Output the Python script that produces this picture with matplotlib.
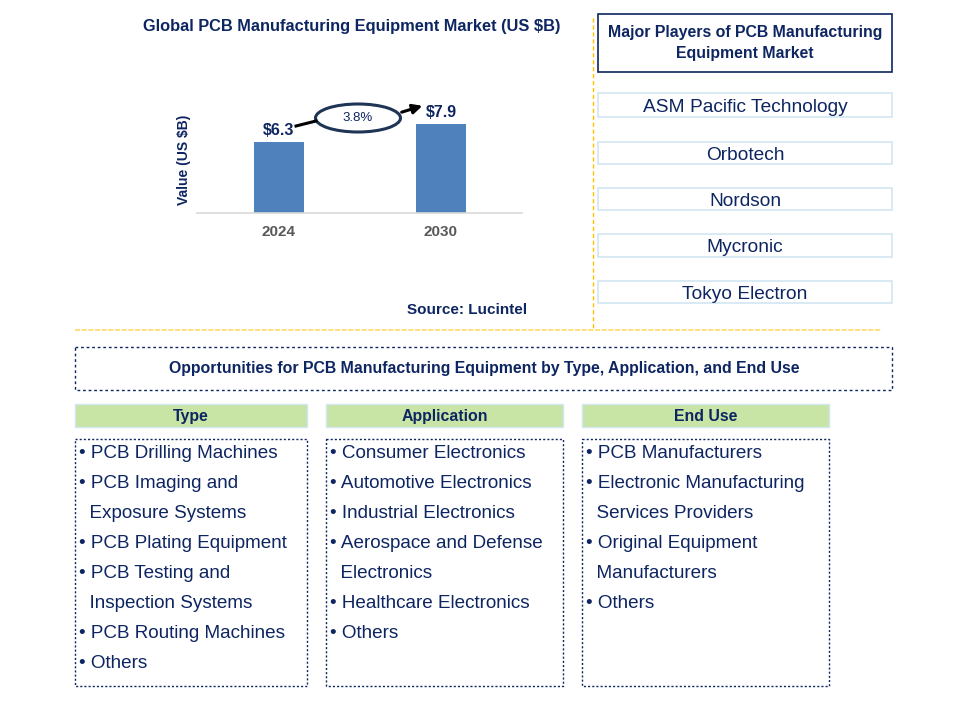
import matplotlib.pyplot as plt
from matplotlib.patches import Rectangle, Ellipse

plt.rcParams['font.family'] = ['Liberation Sans', 'DejaVu Sans']

NAVY = '#0D2561'

# 数据
years = ['2024', '2030']
values = [6.3, 7.9]
cagr = '3.8%'
chart_title = 'Global PCB Manufacturing Equipment Market (US $B)'
players_title = 'Major Players of PCB Manufacturing\nEquipment Market'
players = ['ASM Pacific Technology', 'Orbotech', 'Nordson', 'Mycronic', 'Tokyo Electron']
opp_title = 'Opportunities for PCB Manufacturing Equipment by Type, Application, and End Use'
headers = ['Type', 'Application', 'End Use']
type_items = ['• PCB Drilling Machines', '• PCB Imaging and', '  Exposure Systems',
              '• PCB Plating Equipment', '• PCB Testing and', '  Inspection Systems',
              '• PCB Routing Machines', '• Others']
app_items = ['• Consumer Electronics', '• Automotive Electronics', '• Industrial Electronics',
             '• Aerospace and Defense', '  Electronics', '• Healthcare Electronics', '• Others']
end_items = ['• PCB Manufacturers', '• Electronic Manufacturing', '  Services Providers',
             '• Original Equipment', '  Manufacturers', '• Others']

W, H = 957, 727
fig = plt.figure(figsize=(W / 100, H / 100), dpi=100)

# 背景画布（像素坐标）
bg = fig.add_axes([0, 0, 1, 1])
bg.set_xlim(0, W)
bg.set_ylim(H, 0)
bg.axis('off')

# 柱状图
left, right, bottom, top = 197, 522, 213, 80
ax = fig.add_axes([left / W, 1 - bottom / H, (right - left) / W, (bottom - top) / H])
x = [0, 1]
ax.bar(x, values, width=0.31, color='#4F81BD')
ax.set_xlim(-0.506, 1.5)
ax.set_ylim(0, (bottom - top) * 0.0888)
ax.set_xticks(x)
ax.set_xticklabels(years, fontsize=11, fontweight='bold', color='#595959')
ax.tick_params(axis='x', length=0, pad=9)
ax.set_yticks([])
for s in ['top', 'right', 'left']:
    ax.spines[s].set_visible(False)
ax.spines['bottom'].set_color('#D9D9D9')
ax.spines['bottom'].set_linewidth(1.2)
ax.patch.set_alpha(0)

bg.text(184, 160, 'Value (US $B)', rotation=90, ha='center', va='center',
        fontsize=10, fontweight='bold', color=NAVY)
bg.text(352, 26, chart_title, ha='center', va='center', fontsize=11.8,
        fontweight='bold', color=NAVY)

for xi, v in zip(x, values):
    ax.text(xi, v + 0.4, f'${v}', ha='center', va='bottom', fontsize=11.5,
            fontweight='bold', color=NAVY)

# CAGR 椭圆和箭头
bg.add_patch(Ellipse((358, 118), 85, 28, fill=False, edgecolor='#1F3556', lw=2.2))
bg.text(358, 118, cagr, ha='center', va='center', fontsize=9.5, color=NAVY)
bg.plot([296, 316], [126, 121], color='black', lw=2.2)
bg.annotate('', xy=(425, 105), xytext=(399, 113),
            arrowprops=dict(arrowstyle='-|>', color='black', lw=2.2, mutation_scale=14))

bg.text(467, 310, 'Source: Lucintel', ha='center', va='center', fontsize=11,
        fontweight='bold', color=NAVY)

# 分隔线
bg.plot([593, 593], [18, 330], color='#FFC000', lw=1, ls=(0, (3, 2)))
bg.plot([75, 882], [330, 330], color='#FFD966', lw=1.2, ls=(0, (3, 1)))

# 主要参与者
bg.add_patch(Rectangle((598, 14), 294, 58, fill=False, edgecolor=NAVY, lw=1.2))
bg.text(745, 43, players_title, ha='center', va='center', fontsize=11.4,
        fontweight='bold', color=NAVY, linespacing=1.5)
player_boxes = [(93, 117), (142, 164), (188, 210), (234, 257), (281, 303)]
for name, (y0, y1) in zip(players, player_boxes):
    bg.add_patch(Rectangle((598, y0), 294, y1 - y0, fill=False, edgecolor='#D3E6F3', lw=1.2))
    bg.text(745, (y0 + y1) / 2 + 2.5, name, ha='center', va='center', fontsize=13.8, color=NAVY)

# 机会区
bg.add_patch(Rectangle((75, 347), 817, 43, fill=False, edgecolor=NAVY, lw=1, ls=(0, (2, 2))))
bg.text(484, 368, opp_title, ha='center', va='center', fontsize=11.4,
        fontweight='bold', color=NAVY)

cols = [(75, 307), (326, 563), (582, 829)]
lists = [type_items, app_items, end_items]
for (x0, x1), head, items in zip(cols, headers, lists):
    bg.add_patch(Rectangle((x0, 404), x1 - x0, 23, facecolor='#C9E5A6', edgecolor='#D3E6F3', lw=1))
    bg.text((x0 + x1) / 2, 416.5, head, ha='center', va='center', fontsize=11.4,
            fontweight='bold', color=NAVY)
    bg.add_patch(Rectangle((x0, 439), x1 - x0, 247, fill=False, edgecolor=NAVY, lw=1, ls=(0, (1.5, 1.5))))
    for i, item in enumerate(items):
        bg.text(x0 + 4, 453 + i * 30, item, ha='left', va='center', fontsize=13.6, color=NAVY)

fig.savefig('out.png', dpi=100)
